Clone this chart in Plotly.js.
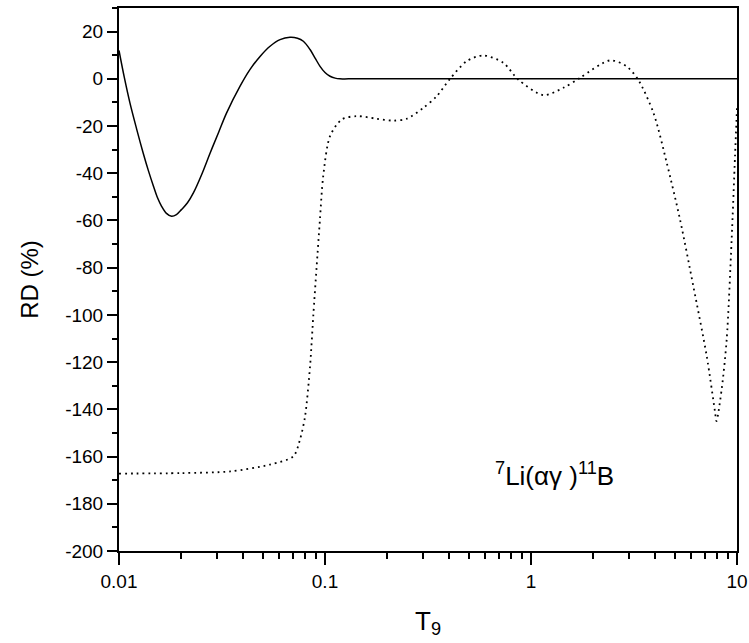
<!DOCTYPE html>
<html>
<head>
<meta charset="utf-8">
<script src="https://cdn.plot.ly/plotly-3.0.1.min.js"></script>
<style>html,body{margin:0;padding:0;background:#fff;}#chart{width:749px;height:643px;}</style>
</head>
<body>
<div id="chart"></div>
<script>
// Solid curve
const solidT = [0.01, 0.0106, 0.0113, 0.0122, 0.0131, 0.0139, 0.0147, 0.0154, 0.0161, 0.017, 0.018, 0.019, 0.0201, 0.0215, 0.023, 0.0252, 0.0277, 0.0305, 0.0333, 0.0387, 0.0432, 0.0485, 0.0541, 0.0605, 0.0676, 0.0735, 0.0785, 0.0846, 0.0895, 0.0946, 0.1, 0.1058, 0.112, 0.118, 0.13, 0.2, 1, 10];
const solidRD = [12, 0.8, -10.2, -21.5, -31.4, -39, -45.5, -50.5, -54, -57, -58.2, -57.5, -55.4, -52.5, -48.2, -40.5, -31.4, -22.5, -14.4, -3.1, 3.9, 9.6, 13.8, 16.6, 17.6, 17.2, 15.9, 12.4, 8.8, 5.3, 2.7, 1.1, 0.3, 0, 0, 0, 0, 0];

// Dotted curve
const dotT = [0.01, 0.02, 0.0346, 0.054, 0.0702, 0.0756, 0.080, 0.0846, 0.0877, 0.091, 0.0945, 0.098, 0.1058, 0.1206, 0.1425, 0.1779, 0.2146, 0.2494, 0.300, 0.3484, 0.4045, 0.4875, 0.5866, 0.734, 0.867, 1.148, 1.436, 1.729, 2.417, 2.91, 3.31, 3.93, 4.56, 5.29, 6.14, 7.13, 7.82, 7.95, 8.42, 8.91, 9.42, 9.78, 10];
const dotRD = [-167.2, -167, -166.3, -163.4, -159.9, -152.8, -143, -121.8, -100.6, -80, -59.6, -41.3, -24.3, -17.2, -15.8, -16.9, -17.7, -16.9, -12.3, -7.4, 0, 7.5, 9.9, 6.8, -0.3, -6.9, -3.8, 0.4, 7.8, 5.3, -0.3, -14.4, -35.6, -59.6, -87.9, -117.5, -141, -145, -131.7, -110.5, -68, -32.8, -12];

// Ticks
const xTickVals = [0.01, 0.1, 1, 10];
const xTickText = ["0.01", "0.1", "1", "10"];
const xMinorVals = [0.02,0.03,0.04,0.05,0.06,0.07,0.08,0.09,0.2,0.3,0.4,0.5,0.6,0.7,0.8,0.9,2,3,4,5,6,7,8,9];
const yTickVals = [20, 0, -20, -40, -60, -80, -100, -120, -140, -160, -180, -200];
const yTickText = ["20", "0", "-20", "-40", "-60", "-80", "-100", "-120", "-140", "-160", "-180", "-200"];

const FONT = "Liberation Sans, Arial, Helvetica, sans-serif";

const traces = [
  {x: solidT, y: solidRD, mode: 'lines', line: {color: '#000', width: 1.5, shape: 'spline', smoothing: 1}, showlegend: false, hoverinfo: 'skip'},
  {x: dotT, y: dotRD, mode: 'lines', line: {color: '#000', width: 1.8, dash: '1.8px,4px', shape: 'spline', smoothing: 0.8}, showlegend: false, hoverinfo: 'skip'}
];

const layout = {
  width: 749, height: 643,
  margin: {l: 119, r: 12, t: 8, b: 92},
  paper_bgcolor: '#fff', plot_bgcolor: '#fff',
  font: {family: FONT, color: '#000', size: 19},
  showlegend: false,
  xaxis: {
    type: 'log', range: [-2, 1],
    tickmode: 'array', tickvals: xTickVals, ticktext: xTickText,
    ticks: 'outside', ticklen: 12, tickwidth: 2, tickcolor: '#000',
    minor: {tickmode: 'array', tickvals: xMinorVals, ticks: 'outside', ticklen: 6, tickwidth: 2, tickcolor: '#000', showgrid: false},
    showline: true, linewidth: 2, linecolor: '#000', mirror: true,
    showgrid: false, zeroline: false,
    tickfont: {size: 19, family: FONT},
    title: {text: 'T<sub>9</sub>', font: {size: 26, family: FONT}, standoff: 21}
  },
  yaxis: {
    range: [-200, 30],
    tickmode: 'array', tickvals: yTickVals, ticktext: yTickText,
    ticks: 'outside', ticklen: 10, tickwidth: 2, tickcolor: '#000',
    minor: {dtick: 10, tick0: 0, ticks: 'outside', ticklen: 5, tickwidth: 2, tickcolor: '#000', showgrid: false},
    showline: true, linewidth: 2, linecolor: '#000', mirror: true,
    showgrid: false, zeroline: false,
    tickfont: {size: 19, family: FONT},
    title: {text: 'RD (%)', font: {size: 24, family: FONT}, standoff: 20}
  },
  annotations: [{
    xref: 'paper', yref: 'paper', x: 0.705, y: 0.14, xanchor: 'center', yanchor: 'middle',
    text: '<sup>7</sup>Li(αγ )<sup>11</sup>B', showarrow: false,
    font: {size: 26, family: FONT, color: '#000'}
  }]
};

Plotly.newPlot('chart', traces, layout, {staticPlot: true, displayModeBar: false});
</script>
</body>
</html>
